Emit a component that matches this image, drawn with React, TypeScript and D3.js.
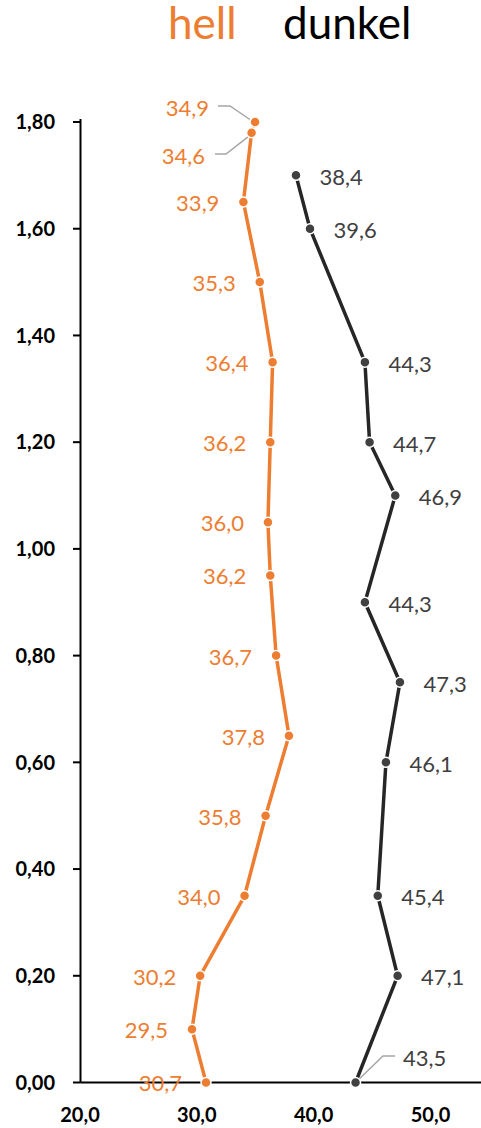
import React from "react";
import * as d3 from "d3";

const hellX = [30.7, 29.5, 30.2, 34.0, 35.8, 37.8, 36.7, 36.2, 36.0, 36.2, 36.4, 35.3, 33.9, 34.6, 34.9];
const hellY = [0.0, 0.1, 0.2, 0.35, 0.5, 0.65, 0.8, 0.95, 1.05, 1.2, 1.35, 1.5, 1.65, 1.78, 1.8];
const dunkelX = [43.5, 47.1, 45.4, 46.1, 47.3, 44.3, 46.9, 44.7, 44.3, 39.6, 38.4];
const dunkelY = [0.0, 0.2, 0.35, 0.6, 0.75, 0.9, 1.1, 1.2, 1.35, 1.6, 1.7];
const yTicks = [0, 0.2, 0.4, 0.6, 0.8, 1.0, 1.2, 1.4, 1.6, 1.8];
const xTicks = [20, 30, 40, 50];
const seriesNames = ["hell", "dunkel"];

const ORANGE = "#ED7D31";
const DARK = "#404040";
const LINE_DARK = "#262626";
const LEADER = "#A6A6A6";
const FONT = "Lato, 'Open Sans', sans-serif";

const W = 481;
const H = 1128;

const fmt = (v: number, d: number) => v.toFixed(d).replace(".", ",");

export default function App() {
  const x = d3.scaleLinear().domain([20, 50]).range([81, 431.5]);
  const y = d3.scaleLinear().domain([0, 1.8]).range([1082.5, 122]);
  const axisX = 80.5;

  const hell = hellX.map((v, i) => ({ x: v, y: hellY[i] }));
  const dunkel = dunkelX.map((v, i) => ({ x: v, y: dunkelY[i] }));

  const line = d3
    .line<{ x: number; y: number }>()
    .x((d) => x(d.x))
    .y((d) => y(d.y));

  const lastH = hell.length - 1;

  return (
    <svg
      width={W}
      height={H}
      style={{ position: "absolute", left: 0, top: 0, background: "#fff" }}
      fontFamily={FONT}
    >
      {/* legend */}
      <text x={168} y={39} fontSize={44} fill={ORANGE}>
        {seriesNames[0]}
      </text>
      <text x={283} y={39} fontSize={44} fill="#000">
        {seriesNames[1]}
      </text>

      {/* axes */}
      <line x1={axisX} x2={W} y1={y(0)} y2={y(0)} stroke="#000" strokeWidth={2} />
      <line x1={axisX} x2={axisX} y1={y(1.8) - 3} y2={y(0)} stroke="#000" strokeWidth={2} />
      {yTicks.map((t) => (
        <g key={t}>
          <line x1={axisX - 7.5} x2={axisX} y1={y(t)} y2={y(t)} stroke="#000" strokeWidth={2} />
          <text
            x={55}
            y={y(t)}
            dy="0.36em"
            textAnchor="end"
            fontSize={20}
            fontWeight="bold"
            fill="#000"
          >
            {fmt(t, 2)}
          </text>
        </g>
      ))}
      {xTicks.map((t) => (
        <text
          key={t}
          x={x(t) - 1}
          y={1114.5}
          dy="0.36em"
          textAnchor="middle"
          fontSize={20}
          fontWeight="bold"
          fill="#000"
        >
          {fmt(t, 1)}
        </text>
      ))}

      {/* lines */}
      <path d={line(hell) || ""} fill="none" stroke={ORANGE} strokeWidth={3.5} />
      <path d={line(dunkel) || ""} fill="none" stroke={LINE_DARK} strokeWidth={3.5} />

      {/* leader lines */}
      <polyline
        points={`218,106 230,106 ${x(hell[lastH].x) - 3},${y(hell[lastH].y) - 1}`}
        fill="none"
        stroke={LEADER}
        strokeWidth={1.5}
      />
      <polyline
        points={`215,154 226,154 ${x(hell[lastH - 1].x) - 2},${y(hell[lastH - 1].y) + 3}`}
        fill="none"
        stroke={LEADER}
        strokeWidth={1.5}
      />
      <polyline
        points={`${x(dunkel[0].x) + 1},${y(dunkel[0].y) - 1} 383,1056 395,1056`}
        fill="none"
        stroke={LEADER}
        strokeWidth={1.5}
      />

      {/* markers */}
      {hell.map((d, i) => (
        <circle key={"h" + i} cx={x(d.x)} cy={y(d.y)} r={5} fill={ORANGE} stroke="#fff" strokeWidth={1.5} />
      ))}
      {dunkel.map((d, i) => (
        <circle key={"d" + i} cx={x(d.x)} cy={y(d.y)} r={5} fill={DARK} stroke="#fff" strokeWidth={1.5} />
      ))}

      {/* data labels */}
      {hell.map((d, i) => {
        let lx = x(d.x) - 24;
        let ly = y(d.y) + 1;
        if (i === lastH) {
          lx = 209;
          ly = 108.5;
        } else if (i === lastH - 1) {
          lx = 205;
          ly = 156;
        }
        return (
          <text
            key={"hl" + i}
            x={lx}
            y={ly}
            dy="0.36em"
            textAnchor="end"
            fontSize={22}
            fill={ORANGE}
          >
            {fmt(d.x, 1)}
          </text>
        );
      })}
      {dunkel.map((d, i) => {
        let lx = x(d.x) + 23.5;
        let ly = y(d.y) + 1.5;
        if (i === 0) {
          lx = 403;
          ly = 1058;
        }
        return (
          <text key={"dl" + i} x={lx} y={ly} dy="0.36em" textAnchor="start" fontSize={22} fill={DARK}>
            {fmt(d.x, 1)}
          </text>
        );
      })}
    </svg>
  );
}
